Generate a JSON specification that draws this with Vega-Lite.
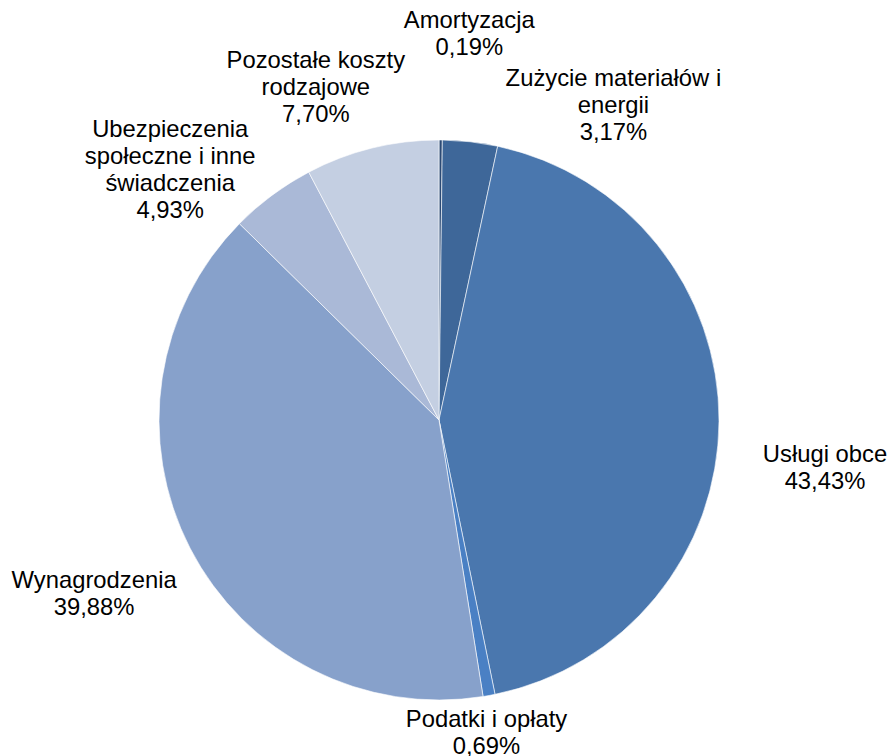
{
  "$schema": "https://vega.github.io/schema/vega-lite/v6.json",
  "width": 560,
  "height": 560,
  "autosize": "none",
  "padding": {"left": 159, "top": 140, "right": 172, "bottom": 56},
  "background": "#ffffff",
  "config": {"view": {"stroke": null}, "text": {"font": "Liberation Sans"}},
  "data": {
    "values": [
      {"cat": "Amortyzacja", "value": 0.19, "label": "Amortyzacja\n0,19%"},
      {"cat": "Zużycie materiałów i energii", "value": 3.17, "label": "Zużycie materiałów i\nenergii\n3,17%"},
      {"cat": "Usługi obce", "value": 43.43, "label": "Usługi obce\n43,43%"},
      {"cat": "Podatki i opłaty", "value": 0.69, "label": "Podatki i opłaty\n0,69%"},
      {"cat": "Wynagrodzenia", "value": 39.88, "label": "Wynagrodzenia\n39,88%"},
      {"cat": "Ubezpieczenia społeczne i inne świadczenia", "value": 4.93, "label": "Ubezpieczenia\nspołeczne i inne\nświadczenia\n4,93%"},
      {"cat": "Pozostałe koszty rodzajowe", "value": 7.70, "label": "Pozostałe koszty\nrodzajowe\n7,70%"}
    ]
  },
  "transform": [{"window": [{"op": "row_number", "as": "rank"}]}],
  "encoding": {
    "theta": {"field": "value", "type": "quantitative", "stack": true},
    "order": {"field": "rank", "type": "quantitative"},
    "color": {
      "field": "cat",
      "type": "nominal",
      "legend": null,
      "scale": {
        "domain": ["Amortyzacja", "Zużycie materiałów i energii", "Usługi obce", "Podatki i opłaty", "Wynagrodzenia", "Ubezpieczenia społeczne i inne świadczenia", "Pozostałe koszty rodzajowe"],
        "range": ["#2b4a75", "#3e6799", "#4a77ae", "#4a80c4", "#87a1cb", "#aab9d7", "#c4cfe2"]
      }
    }
  },
  "layer": [
    {"mark": {"type": "arc", "radius": 280, "stroke": "#ffffff", "strokeWidth": 0.6}},
    {"mark": {"type": "text", "radius": 387, "dx": 28, "dy": -12, "fontSize": 23.8, "lineHeight": 27, "lineBreak": "\n", "align": "center", "baseline": "middle"},
     "encoding": {"color": {"value": "#000000"}, "detail": {"field": "cat"}, "text": {"condition": {"test": "datum.cat === 'Amortyzacja'", "field": "label"}, "value": ""}}},
    {"mark": {"type": "text", "radius": 318, "dx": 139, "dy": -25, "fontSize": 23.8, "lineHeight": 27, "lineBreak": "\n", "align": "center", "baseline": "middle"},
     "encoding": {"color": {"value": "#000000"}, "detail": {"field": "cat"}, "text": {"condition": {"test": "datum.cat === 'Zużycie materiałów i energii'", "field": "label"}, "value": ""}}},
    {"mark": {"type": "text", "radius": 373, "dx": 13, "dy": 33, "fontSize": 23.8, "lineHeight": 27, "lineBreak": "\n", "align": "center", "baseline": "middle"},
     "encoding": {"color": {"value": "#000000"}, "detail": {"field": "cat"}, "text": {"condition": {"test": "datum.cat === 'Usługi obce'", "field": "label"}, "value": ""}}},
    {"mark": {"type": "text", "radius": 316, "dx": -9, "dy": -11, "fontSize": 23.8, "lineHeight": 27, "lineBreak": "\n", "align": "center", "baseline": "middle"},
     "encoding": {"color": {"value": "#000000"}, "detail": {"field": "cat"}, "text": {"condition": {"test": "datum.cat === 'Podatki i opłaty'", "field": "label"}, "value": ""}}},
    {"mark": {"type": "text", "radius": 388, "dy": -17, "fontSize": 23.8, "lineHeight": 27, "lineBreak": "\n", "align": "center", "baseline": "middle"},
     "encoding": {"color": {"value": "#000000"}, "detail": {"field": "cat"}, "text": {"condition": {"test": "datum.cat === 'Wynagrodzenia'", "field": "label"}, "value": ""}}},
    {"mark": {"type": "text", "radius": 367, "dx": -50, "dy": 5, "fontSize": 23.8, "lineHeight": 27, "lineBreak": "\n", "align": "center", "baseline": "middle"},
     "encoding": {"color": {"value": "#000000"}, "detail": {"field": "cat"}, "text": {"condition": {"test": "datum.cat === 'Ubezpieczenia społeczne i inne świadczenia'", "field": "label"}, "value": ""}}},
    {"mark": {"type": "text", "radius": 343, "dx": -41, "dy": -26, "fontSize": 23.8, "lineHeight": 27, "lineBreak": "\n", "align": "center", "baseline": "middle"},
     "encoding": {"color": {"value": "#000000"}, "detail": {"field": "cat"}, "text": {"condition": {"test": "datum.cat === 'Pozostałe koszty rodzajowe'", "field": "label"}, "value": ""}}}
  ]
}
